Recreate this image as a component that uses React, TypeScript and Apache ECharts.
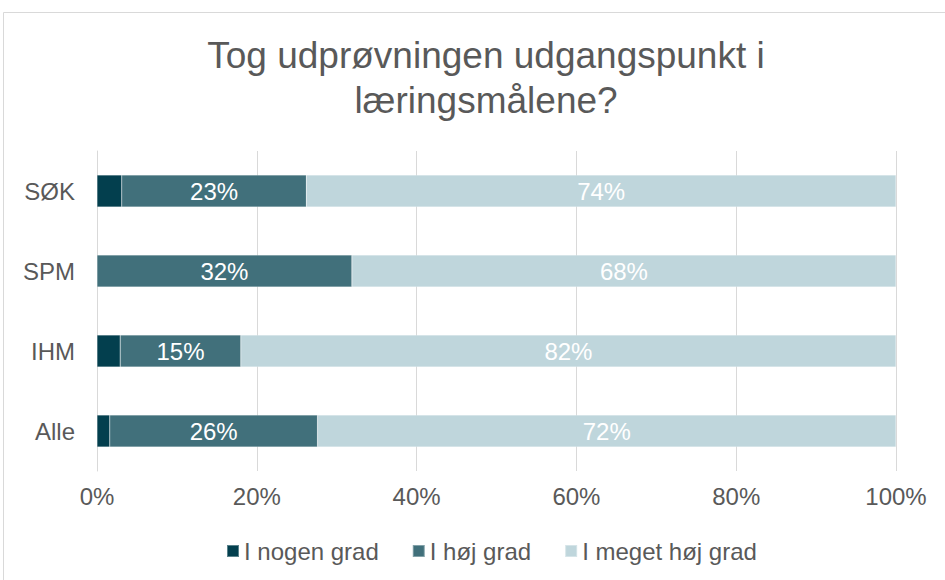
import React, { useEffect, useRef } from "react";
import * as echarts from "echarts";

const categories = ["Alle", "IHM", "SPM", "SØK"];
const seriesNames = ["I nogen grad", "I høj grad", "I meget høj grad"];
const nogenGrad = [1.6, 2.9, 0, 3.1];
const hojGrad = [26.0, 15.1, 31.9, 23.1];
const megetHojGrad = [72.4, 82.0, 68.1, 73.8];
const xTicks = [0, 20, 40, 60, 80, 100];
const colors = ["#033f4e", "#41707b", "#bfd6dc"];

export default function App() {
  const ref = useRef<HTMLDivElement>(null);
  useEffect(() => {
    document.body.style.margin = "0";
    const chart = echarts.init(ref.current!, null, { renderer: "svg" });
    const font = "Liberation Sans, Arial, sans-serif";
    const label = (show: boolean) => ({
      show,
      position: "inside",
      color: "#ffffff",
      fontSize: 24,
      fontFamily: font,
      formatter: (p: any) => Math.round(p.value) + "%",
    });
    const datas = [nogenGrad, hojGrad, megetHojGrad];
    chart.setOption({
      animation: false,
      backgroundColor: "#ffffff",
      title: {
        text: "Tog udprøvningen udgangspunkt i\nlæringsmålene?",
        left: 481,
        textAlign: "center",
        top: 28,
        textStyle: {
          fontFamily: font,
          fontSize: 37,
          fontWeight: "normal",
          color: "#595959",
          lineHeight: 45,
        },
      },
      graphic: [
        {
          type: "rect",
          shape: { x: 3.5, y: 12.5, width: 960, height: 600 },
          style: { fill: "none", stroke: "#d9d9d9", lineWidth: 1 },
          silent: true,
        },
      ],
      legend: {
        top: 534,
        left: 221,
        itemWidth: 12,
        itemHeight: 12,
        itemGap: 33,
        icon: "rect",
        textStyle: { fontFamily: font, fontSize: 24, color: "#595959" },
        data: seriesNames,
      },
      grid: { left: 97, right: 49, top: 151, bottom: 109, containLabel: false },
      xAxis: {
        type: "value",
        min: 0,
        max: 100,
        interval: 20,
        axisLabel: {
          fontFamily: font,
          fontSize: 24,
          color: "#595959",
          margin: 13,
          formatter: (v: number) => (xTicks.includes(v) ? v + "%" : ""),
        },
        splitLine: { show: true, lineStyle: { color: "#d9d9d9", width: 1 } },
        axisLine: { show: false },
        axisTick: { show: false },
      },
      yAxis: {
        type: "category",
        data: categories,
        axisLabel: { fontFamily: font, fontSize: 24, color: "#595959", margin: 22 },
        axisLine: { show: true, lineStyle: { color: "#d9d9d9", width: 1 } },
        axisTick: { show: false },
      },
      series: seriesNames.map((name, i) => ({
        name,
        type: "bar",
        stack: "total",
        barWidth: "40%",
        data: datas[i],
        itemStyle: { color: colors[i], borderColor: "rgba(255,255,255,0.35)", borderWidth: 0.5 },
        label: label(i > 0),
      })),
    });
    return () => chart.dispose();
  }, []);
  return <div ref={ref} style={{ position: "absolute", left: 0, top: 0, width: 945, height: 580 }} />;
}
